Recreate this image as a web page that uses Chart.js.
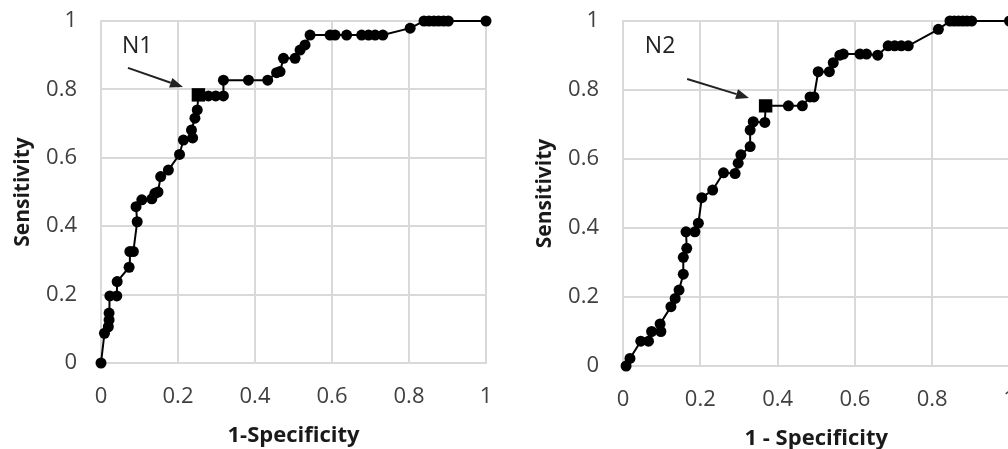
<!DOCTYPE html>
<html>
<head>
<meta charset="utf-8">
<script src="https://cdn.jsdelivr.net/npm/chart.js@4/dist/chart.umd.min.js"></script>
<style>
  html, body { margin: 0; padding: 0; background: #fff; overflow: hidden; width: 1008px; height: 449px; }
  .box { position: absolute; top: 0; }
</style>
</head>
<body>
<div class="box" style="left:0; width:500px; height:449px;"><canvas id="rocN1"></canvas></div>
<div class="box" style="left:504px; width:520px; height:452px;"><canvas id="rocN2"></canvas></div>
<script>
// ROC curve for N1 (1-specificity, sensitivity)
var n1Fpr = [0, 0.009, 0.019, 0.021, 0.021, 0.023, 0.041, 0.042, 0.073, 0.075, 0.084, 0.094, 0.091, 0.106, 0.132, 0.14, 0.148, 0.155, 0.175, 0.204, 0.214, 0.238, 0.235, 0.244, 0.25, 0.253, 0.279, 0.298, 0.318, 0.318, 0.383, 0.433, 0.456, 0.465, 0.474, 0.504, 0.517, 0.53, 0.543, 0.595, 0.608, 0.638, 0.677, 0.695, 0.712, 0.732, 0.803, 0.839, 0.852, 0.865, 0.877, 0.89, 0.902, 1];
var n1Tpr = [0, 0.087, 0.106, 0.126, 0.146, 0.196, 0.196, 0.238, 0.28, 0.326, 0.326, 0.413, 0.457, 0.477, 0.48, 0.496, 0.5, 0.545, 0.564, 0.61, 0.652, 0.658, 0.681, 0.716, 0.74, 0.784, 0.781, 0.781, 0.781, 0.827, 0.827, 0.827, 0.849, 0.852, 0.891, 0.891, 0.915, 0.93, 0.959, 0.959, 0.959, 0.959, 0.959, 0.959, 0.959, 0.959, 0.979, 1, 1, 1, 1, 1, 1, 1];
var n1Cut = 25; // index of the marked cutoff point

// ROC curve for N2
var n2Fpr = [0.008, 0.018, 0.046, 0.066, 0.074, 0.098, 0.096, 0.124, 0.135, 0.145, 0.156, 0.156, 0.165, 0.163, 0.186, 0.195, 0.204, 0.232, 0.26, 0.29, 0.298, 0.305, 0.329, 0.329, 0.337, 0.367, 0.369, 0.428, 0.464, 0.484, 0.494, 0.505, 0.534, 0.544, 0.561, 0.57, 0.613, 0.63, 0.659, 0.686, 0.703, 0.72, 0.738, 0.816, 0.846, 0.857, 0.868, 0.879, 0.89, 0.902, 1];
var n2Tpr = [0, 0.022, 0.072, 0.072, 0.1, 0.1, 0.122, 0.172, 0.196, 0.22, 0.266, 0.315, 0.341, 0.389, 0.389, 0.414, 0.488, 0.51, 0.56, 0.558, 0.588, 0.612, 0.636, 0.684, 0.708, 0.706, 0.754, 0.754, 0.754, 0.78, 0.78, 0.853, 0.853, 0.879, 0.901, 0.904, 0.904, 0.904, 0.901, 0.928, 0.928, 0.928, 0.928, 0.976, 1, 1, 1, 1, 1, 1, 1];
var n2Cut = 26;

var axisTicks = [0, 0.2, 0.4, 0.6, 0.8, 1];
var tickLabels = ["0", "0.2", "0.4", "0.6", "0.8", "1"];

var FONT = "'Open Sans', 'Noto Sans', sans-serif";

function toPoints(xs, ys) {
  var pts = [];
  for (var i = 0; i < xs.length; i++) pts.push({ x: xs[i], y: ys[i] });
  return pts;
}

// draws the "N1"/"N2" label and its arrow, placed in data units
var cutLabelPlugin = {
  id: "cutLabel",
  afterDatasetsDraw: function (chart, args, opts) {
    var sx = chart.scales.x, sy = chart.scales.y;
    var ctx = chart.ctx;
    ctx.save();
    ctx.fillStyle = "#222";
    ctx.font = "23px " + FONT;
    ctx.textAlign = "center";
    ctx.textBaseline = "middle";
    ctx.fillText(opts.text, sx.getPixelForValue(opts.textAt[0]), sy.getPixelForValue(opts.textAt[1]));

    var x1 = sx.getPixelForValue(opts.from[0]), y1 = sy.getPixelForValue(opts.from[1]);
    var x2 = sx.getPixelForValue(opts.to[0]), y2 = sy.getPixelForValue(opts.to[1]);
    var ang = Math.atan2(y2 - y1, x2 - x1);
    var headLen = 13, headW = 5;
    ctx.strokeStyle = "#222";
    ctx.lineWidth = 2;
    ctx.beginPath();
    ctx.moveTo(x1, y1);
    ctx.lineTo(x2 - headLen * Math.cos(ang), y2 - headLen * Math.sin(ang));
    ctx.stroke();
    ctx.beginPath();
    ctx.moveTo(x2, y2);
    ctx.lineTo(x2 - headLen * Math.cos(ang) + headW * Math.sin(ang), y2 - headLen * Math.sin(ang) - headW * Math.cos(ang));
    ctx.lineTo(x2 - headLen * Math.cos(ang) - headW * Math.sin(ang), y2 - headLen * Math.sin(ang) + headW * Math.cos(ang));
    ctx.closePath();
    ctx.fill();
    ctx.restore();
  }
};

function fixedTicks(s) {
  s.ticks = axisTicks.map(function (v) { return { value: v }; });
}
function tickText(v) {
  var i = axisTicks.indexOf(v);
  return i >= 0 ? tickLabels[i] : "";
}

function makeRoc(canvasId, xs, ys, cut, xTitle, lay, label) {
  var pts = toPoints(xs, ys);
  return new Chart(document.getElementById(canvasId), {
    type: "scatter",
    data: {
      datasets: [
        {
          data: [pts[cut]],
          pointStyle: "rect",
          pointRadius: 9.5,
          backgroundColor: "#000",
          borderColor: "#000",
          borderWidth: 0,
          clip: 12
        },
        {
          data: pts,
          showLine: true,
          borderColor: "#000",
          backgroundColor: "#000",
          borderWidth: 2,
          pointRadius: 5.5,
          pointBorderWidth: 0,
          clip: 12
        }
      ]
    },
    options: {
      responsive: true,
      maintainAspectRatio: false,
      animation: false,
      layout: { padding: { top: 21, right: lay.right, left: 0, bottom: 0 } },
      plugins: {
        legend: { display: false },
        tooltip: { enabled: false },
        cutLabel: label
      },
      scales: {
        x: {
          type: "linear",
          min: 0,
          max: 1,
          afterBuildTicks: fixedTicks,
          afterFit: function (s) { s.height = 86; s.paddingLeft = 0; s.paddingRight = 0; },
          grid: { color: "#d9d9d9", lineWidth: 2, drawTicks: false },
          border: { color: "#d9d9d9", width: 2 },
          ticks: {
            padding: 21,
            color: "#404040",
            font: { family: FONT, size: 22 },
            maxRotation: 0,
            callback: tickText
          },
          title: {
            display: true,
            text: xTitle,
            color: "#1a1a1a",
            font: { family: FONT, size: 22, weight: "bold" },
            padding: { top: 0, bottom: 0 }
          }
        },
        y: {
          type: "linear",
          min: 0,
          max: 1,
          afterBuildTicks: fixedTicks,
          afterFit: function (s) { s.width = lay.yWidth; s.paddingTop = 0; s.paddingBottom = 0; },
          grid: { color: "#d9d9d9", lineWidth: 2, drawTicks: false },
          border: { color: "#d9d9d9", width: 2 },
          ticks: {
            padding: 24,
            color: "#404040",
            font: { family: FONT, size: 22 },
            callback: tickText
          },
          title: {
            display: true,
            text: "Sensitivity",
            color: "#1a1a1a",
            font: { family: FONT, size: 21, weight: "bold" },
            padding: { top: lay.titlePad, bottom: 0 }
          }
        }
      }
    },
    plugins: [cutLabelPlugin]
  });
}

makeRoc("rocN1", n1Fpr, n1Tpr, n1Cut, "1-Specificity",
  { right: 14, yWidth: 101, titlePad: 10 },
  { text: "N1", textAt: [0.094, 0.927], from: [0.07, 0.863], to: [0.213, 0.807] });

makeRoc("rocN2", n2Fpr, n2Tpr, n2Cut, "1 - Specificity",
  { right: 14.5, yWidth: 119, titlePad: 28 },
  { text: "N2", textAt: [0.096, 0.925], from: [0.166, 0.832], to: [0.326, 0.777] });
</script>
</body>
</html>
